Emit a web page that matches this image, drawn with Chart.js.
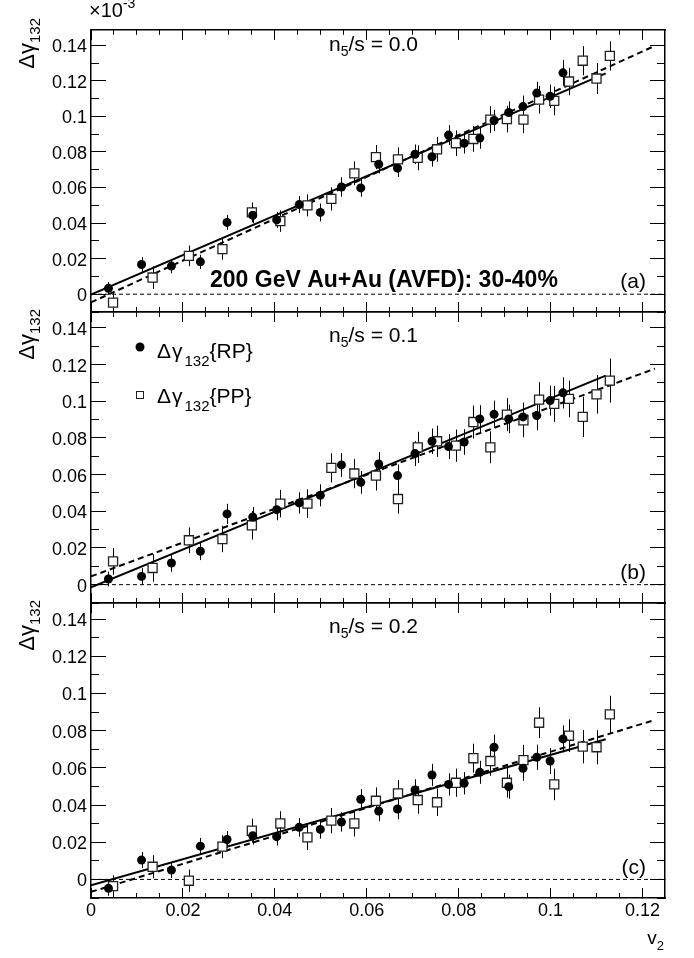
<!DOCTYPE html>
<html>
<head>
<meta charset="utf-8">
<title>Δγ132 vs v2</title>
<script src="https://cdn.jsdelivr.net/npm/chart.js@4.4.0/dist/chart.umd.min.js"></script>
<style>
  html, body { margin: 0; padding: 0; background: #fff; }
  #wrap { position: relative; width: 694px; height: 958px; }
  #wrap canvas { position: absolute; left: 0; top: 0; }
</style>
</head>
<body>
<div id="wrap">
  <canvas id="panelA" width="694" height="958"></canvas>
  <canvas id="panelB" width="694" height="958"></canvas>
  <canvas id="panelC" width="694" height="958"></canvas>
</div>
<script>
// v2 bin centres (RP and PP are shifted against each other)
const v2RP = [0.0038, 0.0110, 0.0175, 0.0238, 0.0296, 0.0352, 0.0404, 0.0453, 0.0499, 0.0545, 0.0587, 0.0626,
              0.0667, 0.0705, 0.0742, 0.0778, 0.0812, 0.0846, 0.0877, 0.0909, 0.0940, 0.0970, 0.0999, 0.1027];
const v2PP = [0.0048, 0.0134, 0.0213, 0.0286, 0.0350, 0.0412, 0.0471, 0.0523, 0.0573, 0.0620, 0.0668, 0.0711,
              0.0753, 0.0794, 0.0832, 0.0869, 0.0905, 0.0941, 0.0975, 0.1008, 0.1040, 0.1070, 0.1100, 0.1129];

// n5/s = 0.0
const rpA    = [0.0033, 0.0167, 0.0158, 0.0182, 0.0404, 0.0444, 0.0418, 0.0504, 0.0460, 0.0603, 0.0598, 0.0731,
                0.0709, 0.0787, 0.0773, 0.0895, 0.0849, 0.0878, 0.0977, 0.1022, 0.1055, 0.1131, 0.1113, 0.1245];
const rpErrA = [0.0035, 0.0042, 0.0040, 0.0040, 0.0042, 0.0045, 0.0045, 0.0048, 0.0050, 0.0055, 0.0050, 0.0052,
                0.0050, 0.0055, 0.0055, 0.0056, 0.0058, 0.0060, 0.0060, 0.0062, 0.0062, 0.0064, 0.0066, 0.0073];
const ppA    = [-0.0047, 0.0094, 0.0216, 0.0254, 0.0460, 0.0411, 0.0500, 0.0536, 0.0680, 0.0771, 0.0758, 0.0767,
                0.0815, 0.0849, 0.0873, 0.0982, 0.0985, 0.0982, 0.1094, 0.1087, 0.1196, 0.1313, 0.1213, 0.1340];
const ppErrA = [0.0055, 0.0064, 0.0058, 0.0060, 0.0056, 0.0060, 0.0062, 0.0065, 0.0067, 0.0068, 0.0068, 0.0070,
                0.0070, 0.0072, 0.0072, 0.0075, 0.0075, 0.0076, 0.0078, 0.0080, 0.0077, 0.0082, 0.0087, 0.0082];

// n5/s = 0.1
const rpB    = [0.0031, 0.0045, 0.0118, 0.0182, 0.0386, 0.0369, 0.0409, 0.0446, 0.0487, 0.0653, 0.0558, 0.0658,
                0.0595, 0.0715, 0.0782, 0.0753, 0.0778, 0.0904, 0.0929, 0.0904, 0.0915, 0.0922, 0.1004, 0.1046];
const rpErrB = [0.0040, 0.0045, 0.0048, 0.0048, 0.0055, 0.0055, 0.0058, 0.0058, 0.0060, 0.0065, 0.0062, 0.0065,
                0.0060, 0.0068, 0.0070, 0.0068, 0.0070, 0.0075, 0.0075, 0.0078, 0.0078, 0.0080, 0.0082, 0.0085];
const ppB    = [0.0127, 0.0091, 0.0242, 0.0249, 0.0324, 0.0442, 0.0442, 0.0637, 0.0606, 0.0595, 0.0467, 0.0749,
                0.0782, 0.0758, 0.0887, 0.0749, 0.0927, 0.0896, 0.1009, 0.0986, 0.1013, 0.0915, 0.1038, 0.1113];
const ppErrB = [0.0073, 0.0075, 0.0070, 0.0072, 0.0078, 0.0075, 0.0078, 0.0080, 0.0080, 0.0082, 0.0080, 0.0085,
                0.0085, 0.0088, 0.0090, 0.0087, 0.0090, 0.0092, 0.0095, 0.0098, 0.0100, 0.0110, 0.0105, 0.0120];

// n5/s = 0.2
const rpC    = [-0.0048, 0.0104, 0.0050, 0.0179, 0.0215, 0.0235, 0.0230, 0.0280, 0.0269, 0.0309, 0.0431, 0.0368,
                0.0379, 0.0481, 0.0562, 0.0511, 0.0517, 0.0576, 0.0711, 0.0499, 0.0598, 0.0657, 0.0637, 0.0756];
const rpErrC = [0.0040, 0.0043, 0.0042, 0.0044, 0.0045, 0.0048, 0.0048, 0.0050, 0.0050, 0.0052, 0.0055, 0.0055,
                0.0055, 0.0058, 0.0060, 0.0060, 0.0060, 0.0062, 0.0068, 0.0065, 0.0068, 0.0068, 0.0070, 0.0072];
const ppC    = [-0.0036, 0.0068, -0.0007, 0.0176, 0.0262, 0.0301, 0.0226, 0.0316, 0.0301, 0.0423, 0.0463, 0.0427,
                0.0415, 0.0520, 0.0652, 0.0637, 0.0520, 0.0642, 0.0843, 0.0511, 0.0773, 0.0714, 0.0711, 0.0888];
const ppErrC = [0.0058, 0.0062, 0.0060, 0.0062, 0.0065, 0.0066, 0.0068, 0.0068, 0.0070, 0.0072, 0.0072, 0.0074,
                0.0074, 0.0076, 0.0078, 0.0080, 0.0080, 0.0082, 0.0083, 0.0085, 0.0088, 0.0090, 0.0092, 0.0100];

// linear fits: [v2 start, value at start, v2 end, value at end]
const fitRpA = [0, -0.0002, 0.112, 0.1242];
const fitPpA = [0, -0.0046, 0.1227, 0.1397];
const fitRpB = [0, -0.0015, 0.112, 0.1140];
const fitPpB = [0, 0.0045, 0.1227, 0.1178];
const fitRpC = [0, -0.0031, 0.112, 0.0754];
const fitPpC = [0, -0.0067, 0.1227, 0.0858];

// axis ranges and tick spacing
const xRange = [0, 0.1249];
const yRange = [-0.0100, 0.1487];
const xMajor = 0.02, xMinor = 0.005;
const yMajor = 0.02, yMinor = 0.01;

const FONT = '"Liberation Sans", Arial, Helvetica, sans-serif';
const W = 694, H = 958;
const LEFT = 91, RIGHT = 665;

const panels = [
  { id: 'panelA', top: 21,  bottom: 312, rp: rpA, rpErr: rpErrA, pp: ppA, ppErr: ppErrA, fitRp: fitRpA, fitPp: fitPpA, n5s: '0.0', tag: '(a)' },
  { id: 'panelB', top: 312, bottom: 603, rp: rpB, rpErr: rpErrB, pp: ppB, ppErr: ppErrB, fitRp: fitRpB, fitPp: fitPpB, n5s: '0.1', tag: '(b)' },
  { id: 'panelC', top: 603, bottom: 898, rp: rpC, rpErr: rpErrC, pp: ppC, ppErr: ppErrC, fitRp: fitRpC, fitPp: fitPpC, n5s: '0.2', tag: '(c)' }
];

function fmt(v) {
  return String(+v.toFixed(3));
}

// one side of the frame; ticks point into the plot like ROOT does
function frameAxis(position, range, step, tickLen, weight, thickness, labels, padding) {
  const horizontal = position === 'top' || position === 'bottom';
  return {
    type: 'linear',
    axis: horizontal ? 'x' : 'y',
    position: position,
    min: range[0],
    max: range[1],
    weight: weight,
    border: { display: weight > 0, color: '#000', width: 1.5 },
    grid: { drawOnChartArea: false, drawTicks: true, tickLength: -tickLen, tickColor: '#000', tickWidth: 1 },
    ticks: {
      stepSize: step,
      includeBounds: false,
      autoSkip: false,
      maxRotation: 0,
      display: labels,
      color: '#000',
      padding: padding || 0,
      labelOffset: horizontal ? 0 : 2,
      font: { family: FONT, size: 18 },
      callback: fmt
    },
    afterFit: function(scale) {
      if (horizontal) scale.height = thickness; else scale.width = thickness;
    }
  };
}

// draws a run of text pieces: [text, size, dy, extra advance, bold]
function drawRich(ctx, x, y, parts, align) {
  const fontOf = p => (p[4] ? 'bold ' : '') + p[1] + 'px ' + FONT;
  let w = 0;
  parts.forEach(p => { ctx.font = fontOf(p); w += ctx.measureText(p[0]).width + (p[3] || 0); });
  let cx = align === 'right' ? x - w : (align === 'center' ? x - w / 2 : x);
  parts.forEach(p => {
    ctx.font = fontOf(p);
    ctx.fillText(p[0], cx, y + (p[2] || 0));
    cx += ctx.measureText(p[0]).width + (p[3] || 0);
  });
}

const errorBars = {
  id: 'errorBars',
  beforeDatasetsDraw(chart) {
    const ctx = chart.ctx, xs = chart.scales.x, ys = chart.scales.y, area = chart.chartArea;
    ctx.save();
    ctx.beginPath();
    ctx.rect(area.left, area.top, area.right - area.left, area.bottom - area.top);
    ctx.clip();
    ctx.strokeStyle = '#000';
    ctx.lineWidth = 1;
    chart.data.datasets.forEach(ds => {
      if (!ds.errors) return;
      ds.data.forEach((pt, i) => {
        const px = Math.round(xs.getPixelForValue(pt.x)) + 0.5;
        ctx.beginPath();
        ctx.moveTo(px, ys.getPixelForValue(pt.y - ds.errors[i]));
        ctx.lineTo(px, ys.getPixelForValue(pt.y + ds.errors[i]));
        ctx.stroke();
      });
    });
    ctx.restore();
  }
};

function panelText(p, index) {
  return {
    id: 'panelText',
    afterDraw(chart) {
      const ctx = chart.ctx;
      ctx.save();
      ctx.fillStyle = '#000';
      ctx.textBaseline = 'alphabetic';

      // y title, rotated, ending at the top of the frame
      ctx.save();
      ctx.translate(34, p.top - 3);
      ctx.rotate(-Math.PI / 2);
      drawRich(ctx, 0, 0, [['Δγ', 22, 0, 0], ['132', 15, 6, 0]], 'right');
      ctx.restore();

      drawRich(ctx, 329, p.top + 30, [['n', 21], ['5', 14, 5], ['/s = ' + p.n5s, 21]], 'left');
      drawRich(ctx, 646, p.bottom - 24, [[p.tag, 21]], 'right');

      if (index === 0) {
        drawRich(ctx, 89, 17, [['×10', 20], ['-3', 14, -9]], 'left');
        drawRich(ctx, 210, 287, [['200 GeV Au+Au (AVFD): 30-40%', 23, 0, 0, true]], 'left');
      }
      if (index === 1) {
        ctx.beginPath();
        ctx.arc(140, 347, 4.5, 0, Math.PI * 2);
        ctx.fill();
        drawRich(ctx, 157, 358, [['Δ', 21, 0, 1], ['γ', 21, 0, 2], ['132', 15, 8], ['{RP}', 21]], 'left');
        ctx.strokeStyle = '#222';
        ctx.lineWidth = 1;
        ctx.strokeRect(136.5, 391.5, 7, 7);
        drawRich(ctx, 157, 403, [['Δ', 21, 0, 1], ['γ', 21, 0, 2], ['132', 15, 8], ['{PP}', 21]], 'left');
      }
      if (index === 2) {
        drawRich(ctx, 664, 944, [['v', 19], ['2', 13, 6]], 'right');
      }
      ctx.restore();
    }
  };
}

function points(xs, ys) {
  return xs.map((x, i) => ({ x: x, y: ys[i] }));
}

function fitLine(f) {
  return [{ x: f[0], y: f[1] }, { x: f[2], y: f[3] }];
}

panels.forEach((p, index) => {
  const last = index === panels.length - 1;
  new Chart(document.getElementById(p.id), {
    type: 'scatter',
    data: {
      datasets: [
        {
          label: 'Δγ132{RP}',
          data: points(v2RP, p.rp),
          errors: p.rpErr,
          pointStyle: 'circle',
          pointRadius: 4.5,
          backgroundColor: '#000',
          borderColor: '#000',
          borderWidth: 0,
          order: 0
        },
        {
          label: 'Δγ132{PP}',
          data: points(v2PP, p.pp),
          errors: p.ppErr,
          pointStyle: 'rect',
          pointRadius: 6.4,
          backgroundColor: '#fff',
          borderColor: '#222',
          borderWidth: 1.3,
          order: 1
        },
        {
          label: 'fit RP',
          data: fitLine(p.fitRp),
          showLine: true,
          pointRadius: 0,
          borderColor: '#000',
          borderWidth: 2,
          order: 2
        },
        {
          label: 'fit PP',
          data: fitLine(p.fitPp),
          showLine: true,
          pointRadius: 0,
          borderColor: '#000',
          borderWidth: 2,
          borderDash: [6, 4],
          order: 3
        },
        {
          label: 'zero',
          data: [{ x: xRange[0], y: 0 }, { x: xRange[1], y: 0 }],
          showLine: true,
          pointRadius: 0,
          borderColor: '#000',
          borderWidth: 1,
          borderDash: [4, 3],
          order: 4
        }
      ]
    },
    options: {
      responsive: false,
      animation: false,
      events: [],
      layout: { padding: 0 },
      plugins: { legend: { display: false }, tooltip: { enabled: false } },
      scales: {
        x:           frameAxis('bottom', xRange, xMajor, 10, 1, H - p.bottom, last, 12),
        xMinorTicks: frameAxis('bottom', xRange, xMinor, 5, 0, 0, false),
        xTop:        frameAxis('top', xRange, xMajor, 10, 1, p.top, false),
        xTopMinor:   frameAxis('top', xRange, xMinor, 5, 0, 0, false),
        y:           frameAxis('left', yRange, yMajor, 15, 1, LEFT, true, 19),
        yMinorTicks: frameAxis('left', yRange, yMinor, 8, 0, 0, false),
        yRight:      frameAxis('right', yRange, yMajor, 15, 1, W - RIGHT, false),
        yRightMinor: frameAxis('right', yRange, yMinor, 8, 0, 0, false)
      }
    },
    plugins: [errorBars, panelText(p, index)]
  });
});
</script>
</body>
</html>
